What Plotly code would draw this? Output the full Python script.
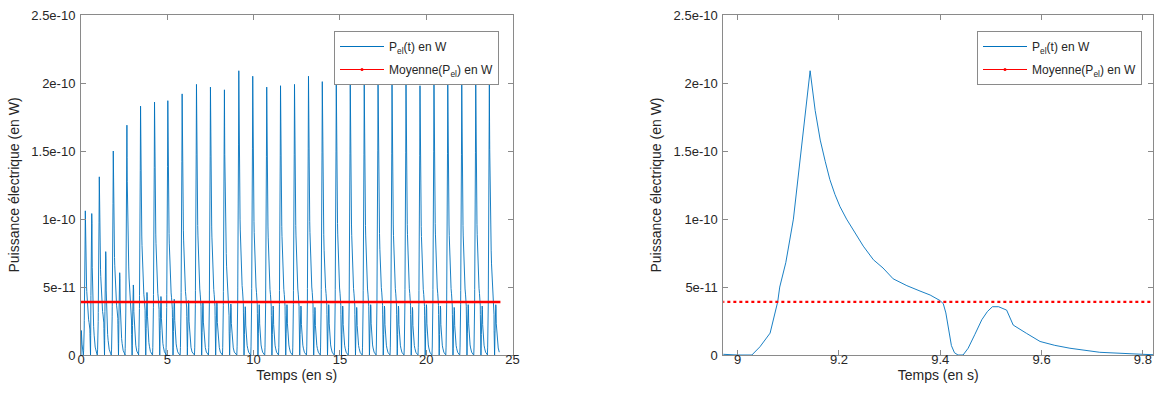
import plotly.graph_objects as go

# ---------------- data ----------------
# times of the main spikes (s) and their heights (W)
peak_times = [0.25, 1.06, 1.87, 2.66, 3.45, 4.26, 5.03, 5.86, 6.69, 7.50,
              8.31, 9.143, 9.95, 10.76, 11.56, 12.37, 13.18, 13.98, 14.79, 15.60,
              16.41, 17.21, 18.02, 18.83, 19.64, 20.45, 21.25, 22.06, 22.87, 23.66]
peak_heights = [1.06e-10, 1.31e-10, 1.50e-10, 1.69e-10, 1.83e-10, 1.86e-10, 1.87e-10, 1.92e-10, 1.99e-10, 1.97e-10,
                1.95e-10, 2.09e-10, 2.05e-10, 1.97e-10, 1.98e-10, 1.99e-10, 2.05e-10, 2.01e-10, 2.02e-10, 2.00e-10,
                1.99e-10, 2.03e-10, 2.00e-10, 2.01e-10, 1.98e-10, 2.02e-10, 2.00e-10, 1.99e-10, 2.01e-10, 2.00e-10]
# heights of the secondary humps that follow every spike (W)
second_heights = [1.04e-10, 0.76e-10, 0.605e-10, 0.515e-10, 0.46e-10, 0.43e-10, 0.41e-10, 0.40e-10, 0.39e-10, 0.385e-10,
                  0.375e-10, 0.355e-10, 0.37e-10, 0.36e-10, 0.37e-10, 0.36e-10, 0.35e-10, 0.37e-10, 0.36e-10, 0.35e-10,
                  0.37e-10, 0.36e-10, 0.36e-10, 0.35e-10, 0.37e-10, 0.36e-10, 0.35e-10, 0.37e-10, 0.36e-10, 0.37e-10]

# shape of one cycle (time offset from spike, relative height)
shape_dt_main = [-0.115, -0.099, -0.079, -0.064, -0.060, -0.048, -0.033, -0.016, 0.0,
                 0.010, 0.020, 0.030, 0.039, 0.049, 0.059, 0.072, 0.085, 0.105, 0.125, 0.144, 0.164, 0.191,
                 0.217, 0.237, 0.257, 0.263, 0.268, 0.274, 0.279, 0.285, 0.292]
shape_main = [0.0, 0.029, 0.077, 0.187, 0.239, 0.325, 0.478, 0.742, 1.0,
              0.86, 0.756, 0.68, 0.617, 0.565, 0.522, 0.478, 0.440, 0.383, 0.335, 0.306, 0.268, 0.244,
              0.225, 0.211, 0.191, 0.180, 0.148, 0.090, 0.033, 0.008, 0.0]
shape_dt_second = [0.302, 0.312, 0.325, 0.339, 0.350, 0.360, 0.372, 0.388, 0.401, 0.414, 0.427,
                   0.454, 0.483, 0.513, 0.572, 0.657, 0.690]
shape_second = [0.0, 0.14, 0.42, 0.73, 0.90, 1.0, 1.0, 0.93, 0.62, 0.53, 0.45,
                0.28, 0.20, 0.14, 0.056, 0.014, 0.0]

# start of the record
init_t = [0.0, 0.02, 0.06, 0.10]
init_p = [0.0, 0.18e-10, 0.08e-10, 0.0]

t_end = 24.3
mean_power = 3.9e-11

x_ticks_left = [0, 5, 10, 15, 20, 25]
x_ticks_right = [9, 9.2, 9.4, 9.6, 9.8]
x_ticklabels_right = ["9", "9.2", "9.4", "9.6", "9.8"]
y_ticks = [0, 5e-11, 1e-10, 1.5e-10, 2e-10, 2.5e-10]
y_ticklabels = ["0", "5e-11", "1e-10", "1.5e-10", "2e-10", "2.5e-10"]

# ---------------- assemble the series ----------------
t = list(init_t)
p = list(init_p)
for tp, h, s in zip(peak_times, peak_heights, second_heights):
    for dt, v in zip(shape_dt_main, shape_main):
        t.append(tp + dt)
        p.append(h * v)
    for dt, v in zip(shape_dt_second, shape_second):
        t.append(tp + dt)
        p.append(s * v)
pairs = [(a, b) for a, b in zip(t, p) if a <= t_end]
t = [a for a, _ in pairs]
p = [b for _, b in pairs]

BLUE = "#0072BD"
RED = "#FF0000"
FRAME = "#8a8a8a"
TXT = "#262626"
FONT = "Liberation Sans, Arial, sans-serif"

fig = go.Figure()

# left panel
fig.add_trace(go.Scatter(x=t, y=p, mode="lines", line=dict(color=BLUE, width=0.9),
                         showlegend=False, xaxis="x", yaxis="y"))
fig.add_trace(go.Scatter(x=[0, t_end], y=[mean_power, mean_power], mode="lines",
                         line=dict(color=RED, width=2.6), showlegend=False, xaxis="x", yaxis="y"))
# right panel
fig.add_trace(go.Scatter(x=t, y=p, mode="lines", line=dict(color=BLUE, width=0.9),
                         showlegend=False, xaxis="x2", yaxis="y2"))
fig.add_trace(go.Scatter(x=[0, t_end], y=[mean_power, mean_power], mode="lines",
                         line=dict(color=RED, width=2.2, dash="dot"), showlegend=False,
                         xaxis="x2", yaxis="y2"))

# legend entries
for lg in ["legend", "legend2"]:
    fig.add_trace(go.Scatter(x=[None], y=[None], mode="lines", line=dict(color=BLUE, width=1),
                             name="P<sub>el</sub>(t) en W", legend=lg, legendgroup=lg + "a"))
    fig.add_trace(go.Scatter(x=[None], y=[None], mode="lines+markers",
                             line=dict(color=RED, width=1), marker=dict(color=RED, size=3),
                             name="Moyenne(P<sub>el</sub>) en W", legend=lg, legendgroup=lg + "b"))

W, H = 1154, 399


def px_x(x):
    return x / W


def px_y(y):
    return (H - y) / H


y_dom = [px_y(355), px_y(15)]
y_top = 2.5e-10 * 1.000001

axis_common = dict(showline=True, linecolor=FRAME, linewidth=1, mirror="ticks",
                   ticks="inside", ticklen=5, tickcolor=FRAME, showgrid=False,
                   zeroline=False, tickfont=dict(family=FONT, size=13, color=TXT),
                   automargin=False)
x_extra = dict(ticklabelstandoff=-8)
y_extra = dict(ticklabelstandoff=2)

fig.update_layout(
    width=W, height=H,
    margin=dict(l=0, r=0, t=0, b=0),
    paper_bgcolor="white", plot_bgcolor="white",
    font=dict(family=FONT, color=TXT),
    xaxis=dict(domain=[px_x(81), px_x(512.5)], range=[0, 25], tickvals=x_ticks_left,
               title=dict(text="Temps (en s)", font=dict(size=14, color=TXT), standoff=4),
               anchor="y", **axis_common, **x_extra),
    yaxis=dict(domain=y_dom, range=[0, y_top], tickvals=y_ticks, ticktext=y_ticklabels,
               title=dict(text="Puissance électrique (en W)", font=dict(size=14, color=TXT), standoff=8),
               anchor="x", **axis_common, **y_extra),
    xaxis2=dict(domain=[px_x(723.3), px_x(1153)], range=[8.9716, 9.82], tickvals=x_ticks_right,
                ticktext=x_ticklabels_right,
                title=dict(text="Temps (en s)", font=dict(size=14, color=TXT), standoff=4),
                anchor="y2", **axis_common, **x_extra),
    yaxis2=dict(domain=y_dom, range=[0, y_top], tickvals=y_ticks, ticktext=y_ticklabels,
                title=dict(text="Puissance électrique (en W)", font=dict(size=14, color=TXT), standoff=8),
                anchor="x2", **axis_common, **y_extra),
    legend=dict(x=px_x(334), y=px_y(31), xanchor="left", yanchor="top",
                bgcolor="white", bordercolor=FRAME, borderwidth=1, itemwidth=44,
                font=dict(family=FONT, size=12, color=TXT), tracegroupgap=4,
                traceorder="grouped"),
    legend2=dict(x=px_x(977), y=px_y(31), xanchor="left", yanchor="top",
                 bgcolor="white", bordercolor=FRAME, borderwidth=1, itemwidth=44,
                 font=dict(family=FONT, size=12, color=TXT), tracegroupgap=4,
                 traceorder="grouped"),
)

# remove the browser's default page margin so the figure fills the window exactly
fig.write_html("out.html",
               config={"displayModeBar": False},
               post_script="document.body.style.margin='0';document.body.style.overflow='hidden';")
